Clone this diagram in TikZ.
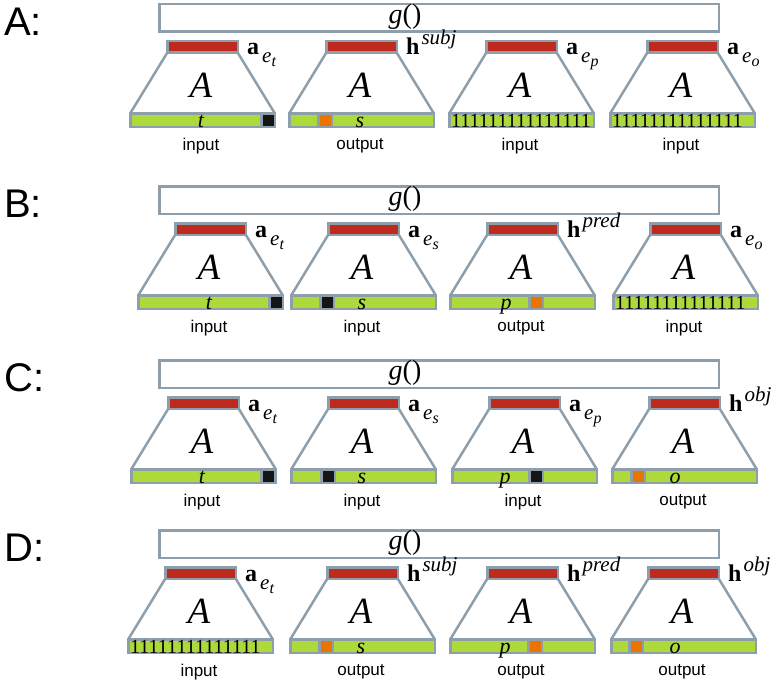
\documentclass[tikz,border=0pt]{standalone}
\usepackage{fontspec}
\setmainfont{Liberation Serif}
\newfontfamily\sansf{Liberation Sans}
\definecolor{gr}{HTML}{8E9FAB}
\definecolor{rd}{HTML}{BF2A1E}
\definecolor{gn}{HTML}{ADD93B}
\definecolor{org}{HTML}{EA7400}
\definecolor{blk}{HTML}{151515}
\tikzset{
 outl/.style={draw=gr, line width=2.5pt},
 redbar/.style={outl, fill=rd, minimum width=70.5pt, minimum height=11.5pt, inner sep=0, outer sep=0},
 greenbar/.style={outl, fill=gn, minimum width=144.5pt, minimum height=13.5pt, inner sep=0, outer sep=0},
 cellbox/.style={outl, minimum width=13.5pt, minimum height=13.5pt, inner sep=0, outer sep=0},
 gbox/.style={outl, minimum width=559.5pt, minimum height=27.5pt, inner sep=0, outer sep=0},
 bigA/.style={font=\fontsize{37}{37}\selectfont\itshape, inner sep=0},
 bartext/.style={font=\fontsize{22}{22}\selectfont\itshape, inner sep=0, anchor=base},
 onesty/.style={font=\fontsize{20}{20}\selectfont, inner sep=0, anchor=base west},
 veclab/.style={font=\fontsize{24}{24}\selectfont, inner sep=0, anchor=base west},
 iolab/.style={font=\sansf\fontsize{17}{17}\selectfont, inner sep=0},
 rowlab/.style={font=\sansf\fontsize{40}{40}\selectfont, inner sep=0, anchor=west},
 gtext/.style={font=\fontsize{28}{28}\selectfont, inner sep=0},
}
\newcommand\avec[1]{\textbf{a}\hspace{3pt}\raisebox{-8pt}{\fontsize{21}{21}\selectfont\itshape e\raisebox{-4pt}{\fontsize{16}{16}\selectfont #1}}}
\newcommand\hvec[1]{\textbf{h}\hspace{2pt}\raisebox{10pt}{\fontsize{21}{21}\selectfont\itshape #1}}
% #1 name, #2 green-left x, #3 row top, #4 label, #5 io text
\newcommand\modbase[5]{%
 \node[redbar] (#1r) at (#2+73.5,#3+47) {};
 \node[greenbar] (#1g) at (#2+73.5,#3+120) {};
 \draw[outl] (#1r.south west) -- (#1g.north west);
 \draw[outl] (#1r.south east) -- (#1g.north east);
 \node[bigA] (#1A) at (#2+72,#3+85) {A};
 \node[veclab] (#1l) at (#2+118,#3+55) {#4};
 \node[iolab] (#1io) at (#2+72,#3+146) {#5};
}
% #1 name, #2 gl, #3 row top, #4 offset, #5 colour
\newcommand\modcell[5]{\node[cellbox, fill=#5] (#1c) at (#2+#4+8,#3+120) {};}
% #1 name, #2 gl, #3 row top, #4 offset, #5 text
\newcommand\modtext[5]{\node[bartext] (#1t) at (#2+#4,#3+127) {#5};}
\newcommand\modones[4]{\node[onesty] (#1o) at (#2+3,#3+127) {#4};}
\begin{document}
\begin{tikzpicture}[x=1pt,y=-1pt]
\useasboundingbox (0,0) rectangle (773,685);
% ---------------- Row A
\node[rowlab] (LA) at (4,22) {A:};
\node[gbox] (gA) at (439,18) {};
\node[gtext] (gAt) at (405,17) {{\itshape g}()};
\modbase{A1}{129}{0}{\avec{t}}{input}
\modcell{A1}{129}{0}{131}{blk}
\modtext{A1}{129}{0}{72}{t}
\modbase{A2}{288}{0}{\hvec{subj}}{output}
\modcell{A2}{288}{0}{29}{org}
\modtext{A2}{288}{0}{72}{s}
\modbase{A3}{448}{0}{\avec{p}}{input}
\modones{A3}{448}{0}{111111111111111}
\modbase{A4}{609}{0}{\avec{o}}{input}
\modones{A4}{609}{0}{11111111111111}
% ---------------- Row B
\node[rowlab] (LB) at (4,204) {B:};
\node[gbox] (gB) at (439,200) {};
\node[gtext] (gBt) at (405,199) {{\itshape g}()};
\modbase{B1}{137}{182}{\avec{t}}{input}
\modcell{B1}{137}{182}{131}{blk}
\modtext{B1}{137}{182}{72}{t}
\modbase{B2}{290}{182}{\avec{s}}{input}
\modcell{B2}{290}{182}{29}{blk}
\modtext{B2}{290}{182}{72}{s}
\modbase{B3}{449}{182}{\hvec{pred}}{output}
\modcell{B3}{449}{182}{79}{org}
\modtext{B3}{449}{182}{57}{p}
\modbase{B4}{612}{182}{\avec{o}}{input}
\modones{B4}{612}{182}{11111111111111}
% ---------------- Row C
\node[rowlab] (LC) at (4,378) {C:};
\node[gbox] (gC) at (439,374) {};
\node[gtext] (gCt) at (405,373) {{\itshape g}()};
\modbase{C1}{130}{356}{\avec{t}}{input}
\modcell{C1}{130}{356}{130}{blk}
\modtext{C1}{130}{356}{72}{t}
\modbase{C2}{290}{356}{\avec{s}}{input}
\modcell{C2}{290}{356}{30}{blk}
\modtext{C2}{290}{356}{72}{s}
\modbase{C3}{451}{356}{\avec{p}}{input}
\modcell{C3}{451}{356}{77}{blk}
\modtext{C3}{451}{356}{54}{p}
\modbase{C4}{611}{356}{\hvec{obj}}{output}
\modcell{C4}{611}{356}{19}{org}
\modtext{C4}{611}{356}{64}{o}
% ---------------- Row D
\node[rowlab] (LD) at (4,548) {D:};
\node[gbox] (gD) at (439,544) {};
\node[gtext] (gDt) at (405,543) {{\itshape g}()};
\modbase{D1}{127}{526}{\avec{t}}{input}
\modones{D1}{127}{526}{11111111111111}
\modbase{D2}{289}{526}{\hvec{subj}}{output}
\modcell{D2}{289}{526}{29}{org}
\modtext{D2}{289}{526}{72}{s}
\modbase{D3}{449}{526}{\hvec{pred}}{output}
\modcell{D3}{449}{526}{78}{org}
\modtext{D3}{449}{526}{56}{p}
\modbase{D4}{610}{526}{\hvec{obj}}{output}
\modcell{D4}{610}{526}{18}{org}
\modtext{D4}{610}{526}{65}{o}
\end{tikzpicture}
\end{document}
